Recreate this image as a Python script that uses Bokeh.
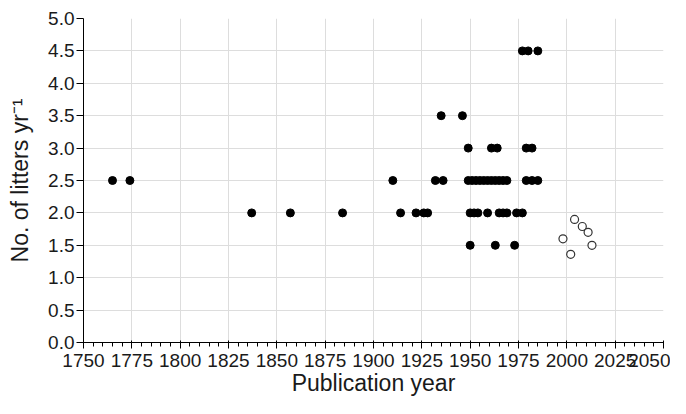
from bokeh.plotting import figure
from bokeh.models import SingleIntervalTicker, PrintfTickFormatter, Range1d
from bokeh.embed import file_html
from bokeh.resources import INLINE

# Filled points (historical records)
filled_year = [1765, 1774,
               1837, 1857, 1884,
               1910, 1932, 1936,
               1914, 1922, 1926, 1928,
               1935, 1946,
               1949, 1961, 1964, 1979, 1982,
               1949, 1951, 1953, 1955, 1957, 1959, 1961, 1963, 1965, 1967, 1969,
               1979, 1982, 1985,
               1950, 1952, 1954, 1959, 1965, 1967, 1969, 1974, 1977,
               1950, 1963, 1973,
               1977, 1980, 1985]
filled_val = [2.5, 2.5,
              2.0, 2.0, 2.0,
              2.5, 2.5, 2.5,
              2.0, 2.0, 2.0, 2.0,
              3.5, 3.5,
              3.0, 3.0, 3.0, 3.0, 3.0,
              2.5, 2.5, 2.5, 2.5, 2.5, 2.5, 2.5, 2.5, 2.5, 2.5, 2.5,
              2.5, 2.5, 2.5,
              2.0, 2.0, 2.0, 2.0, 2.0, 2.0, 2.0, 2.0, 2.0,
              1.5, 1.5, 1.5,
              4.5, 4.5, 4.5]

# Open points (recent records)
open_year = [1998, 2002, 2004, 2008, 2011, 2013]
open_val = [1.6, 1.36, 1.9, 1.79, 1.7, 1.5]

FONT = "Liberation Sans"

p = figure(width=670, height=398, output_backend="svg", toolbar_location=None,
           x_range=Range1d(1750, 2050), y_range=Range1d(0, 5),
           min_border_left=83, min_border_right=7, min_border_top=18,
           min_border_bottom=56)
p.outline_line_color = None

p.scatter(filled_year, filled_val, size=8, fill_color="black", line_color="black")
p.scatter(open_year, open_val, size=8, fill_color="white", line_color="#333333",
          line_width=1.2)

p.xaxis.ticker = SingleIntervalTicker(interval=25, num_minor_ticks=5)
p.yaxis.ticker = SingleIntervalTicker(interval=0.5, num_minor_ticks=0)
p.yaxis.formatter = PrintfTickFormatter(format="%.1f")

p.xgrid.ticker = SingleIntervalTicker(interval=25)
p.ygrid.ticker = SingleIntervalTicker(interval=0.5)
p.grid.grid_line_color = "#dddddd"
p.grid.grid_line_width = 1

for ax in (p.xaxis, p.yaxis):
    ax.axis_line_color = "black"
    ax.major_tick_line_color = "black"
    ax.minor_tick_line_color = "black"
    ax.major_label_text_font = FONT
    ax.major_label_text_font_size = "19px"
    ax.major_label_text_color = "#1a1a1a"
    ax.axis_label_text_font = FONT
    ax.axis_label_text_font_size = "23px"
    ax.axis_label_text_font_style = "normal"
    ax.axis_label_text_color = "#1a1a1a"
    ax.minor_tick_in = 0

p.xaxis.major_tick_in = 2
p.xaxis.major_tick_out = 6
p.xaxis.minor_tick_out = 4
p.yaxis.major_tick_in = 0
p.yaxis.major_tick_out = 7
p.xaxis.major_label_standoff = 5
p.yaxis.major_label_standoff = 2

p.xaxis.axis_label = "Publication year"
p.yaxis.axis_label = "No. of litters yr\u207b\u00b9"
p.xaxis.axis_label_standoff = 0
p.yaxis.axis_label_standoff = 12

open("out.html", "w").write(file_html(p, INLINE))
